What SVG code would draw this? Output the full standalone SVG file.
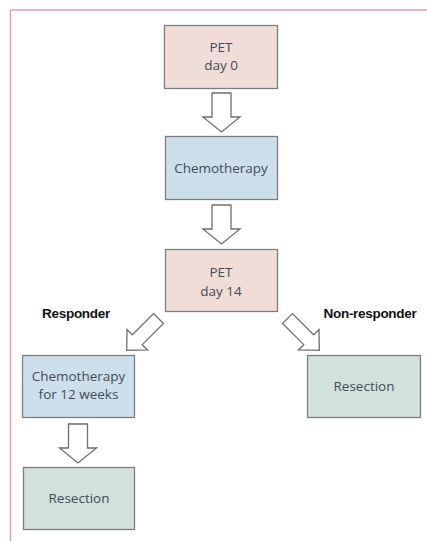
<svg xmlns="http://www.w3.org/2000/svg" width="427" height="541" viewBox="0 0 427 541">
<style>
.box{stroke:#7d7d7d;stroke-width:1.3}
.pet{fill:#f1ddd7}
.chemo{fill:#cddfea}
.res{fill:#d3e1dc}
.t{font-family:"Open Sans","Liberation Sans",sans-serif;font-size:13.5px;fill:#414c57;text-anchor:middle}
.lbl{font-family:"Liberation Sans",sans-serif;font-size:13.5px;font-weight:bold;fill:#111;text-anchor:middle;letter-spacing:-0.3px}
.arr{fill:#fff;stroke:#6e6e6e;stroke-width:1.3;stroke-linejoin:miter}
</style>
<defs>
<path id="va" d="M -9.5 0 L 9.5 0 L 9.5 24 L 18.5 24 L 0 39 L -18.5 24 L -9.5 24 Z"/>
<path id="da" d="M -7 0 L 7 0 L 7 30 L 14.5 30 L 0 45 L -14.5 30 L -7 30 Z"/>
</defs>
<rect x="0" y="0" width="427" height="541" fill="#fff"/>
<g id="frame">
<line x1="10" y1="10" x2="427" y2="10" stroke="#d9a3ab" stroke-width="1.5"/>
<line x1="10.5" y1="10" x2="10.5" y2="541" stroke="#d9a3ab" stroke-width="1.5"/>
</g>
<g id="connectors">
<use href="#va" class="arr" transform="translate(221.5,93)"/>
<use href="#va" class="arr" transform="translate(221.5,205)"/>
<use href="#da" class="arr" transform="translate(158.5,318.5) rotate(45)"/>
<use href="#da" class="arr" transform="translate(287.5,318.5) rotate(-45)"/>
<use href="#va" class="arr" transform="translate(78,424)"/>
</g>
<g id="pet0">
<rect class="box pet" x="164.5" y="25.5" width="113" height="63"/>
<text class="t" x="221" y="51.5">PET</text>
<text class="t" x="221" y="69.5">day 0</text>
</g>
<g id="chemo1">
<rect class="box chemo" x="165.5" y="136.5" width="112" height="63"/>
<text class="t" x="221" y="172.5">Chemotherapy</text>
</g>
<g id="pet14">
<rect class="box pet" x="165.5" y="249.5" width="112" height="62"/>
<text class="t" x="221" y="276.5">PET</text>
<text class="t" x="221" y="296">day 14</text>
</g>
<g id="responder">
<text class="lbl" x="76" y="318">Responder</text>
</g>
<g id="nonresponder">
<text class="lbl" x="370" y="318">Non-responder</text>
</g>
<g id="chemo12">
<rect class="box chemo" x="22.5" y="355.5" width="112" height="62"/>
<text class="t" x="78.5" y="381">Chemotherapy</text>
<text class="t" x="78.5" y="398.5">for 12 weeks</text>
</g>
<g id="resection-right">
<rect class="box res" x="307.5" y="355.5" width="113" height="62"/>
<text class="t" x="364" y="391">Resection</text>
</g>
<g id="resection-left">
<rect class="box res" x="23.5" y="467.5" width="111" height="62"/>
<text class="t" x="79" y="502.5">Resection</text>
</g>
</svg>
